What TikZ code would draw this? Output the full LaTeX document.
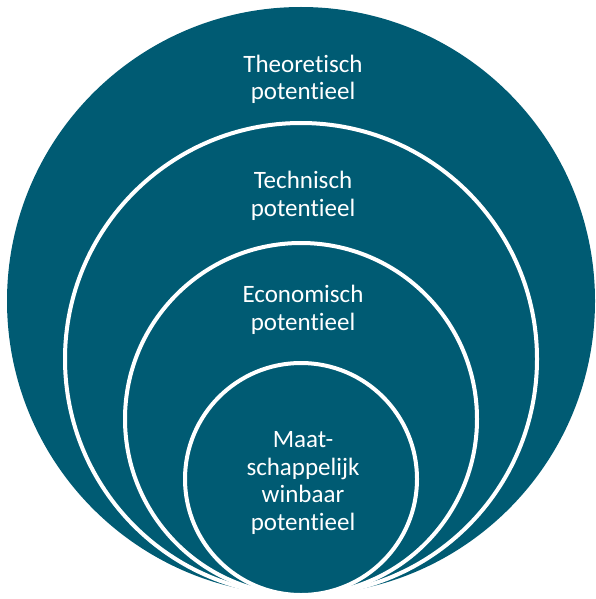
\documentclass[tikz,border=0pt]{standalone}
\usepackage{fontspec}
\setmainfont{Carlito}[Ligatures=NoCommon]
\definecolor{teal1}{RGB}{0,91,115}
\begin{document}
\begin{tikzpicture}[x=1pt,y=-1pt,
  ring/.style={fill=teal1,draw=white,line width=4pt},
  lbl/.style={text=white,font=\fontsize{25}{27.5}\selectfont,align=center,inner sep=0pt}]
\useasboundingbox (0,0) rectangle (596,599);
\fill[teal1] (301,301) circle (294);
\node[circle,minimum size=588pt,inner sep=0pt] (c1) at (301,301) {};
\draw[ring] (301,359) circle (236);
\draw[ring] (301,419) circle (176);
\draw[ring] (301,479) circle (116);
\node[lbl] (t1) at (303,80.5) {\strut Theoretisch\\\strut potentieel};
\node[lbl] (t2) at (303,197) {\strut Technisch\\\strut potentieel};
\node[lbl] (t3) at (303,311) {\strut Economisch\\\strut potentieel};
\node[lbl] (t4) at (303,483.5) {\strut Maat-\\\strut schappelijk\\\strut winbaar\\\strut potentieel};
\end{tikzpicture}
\end{document}
